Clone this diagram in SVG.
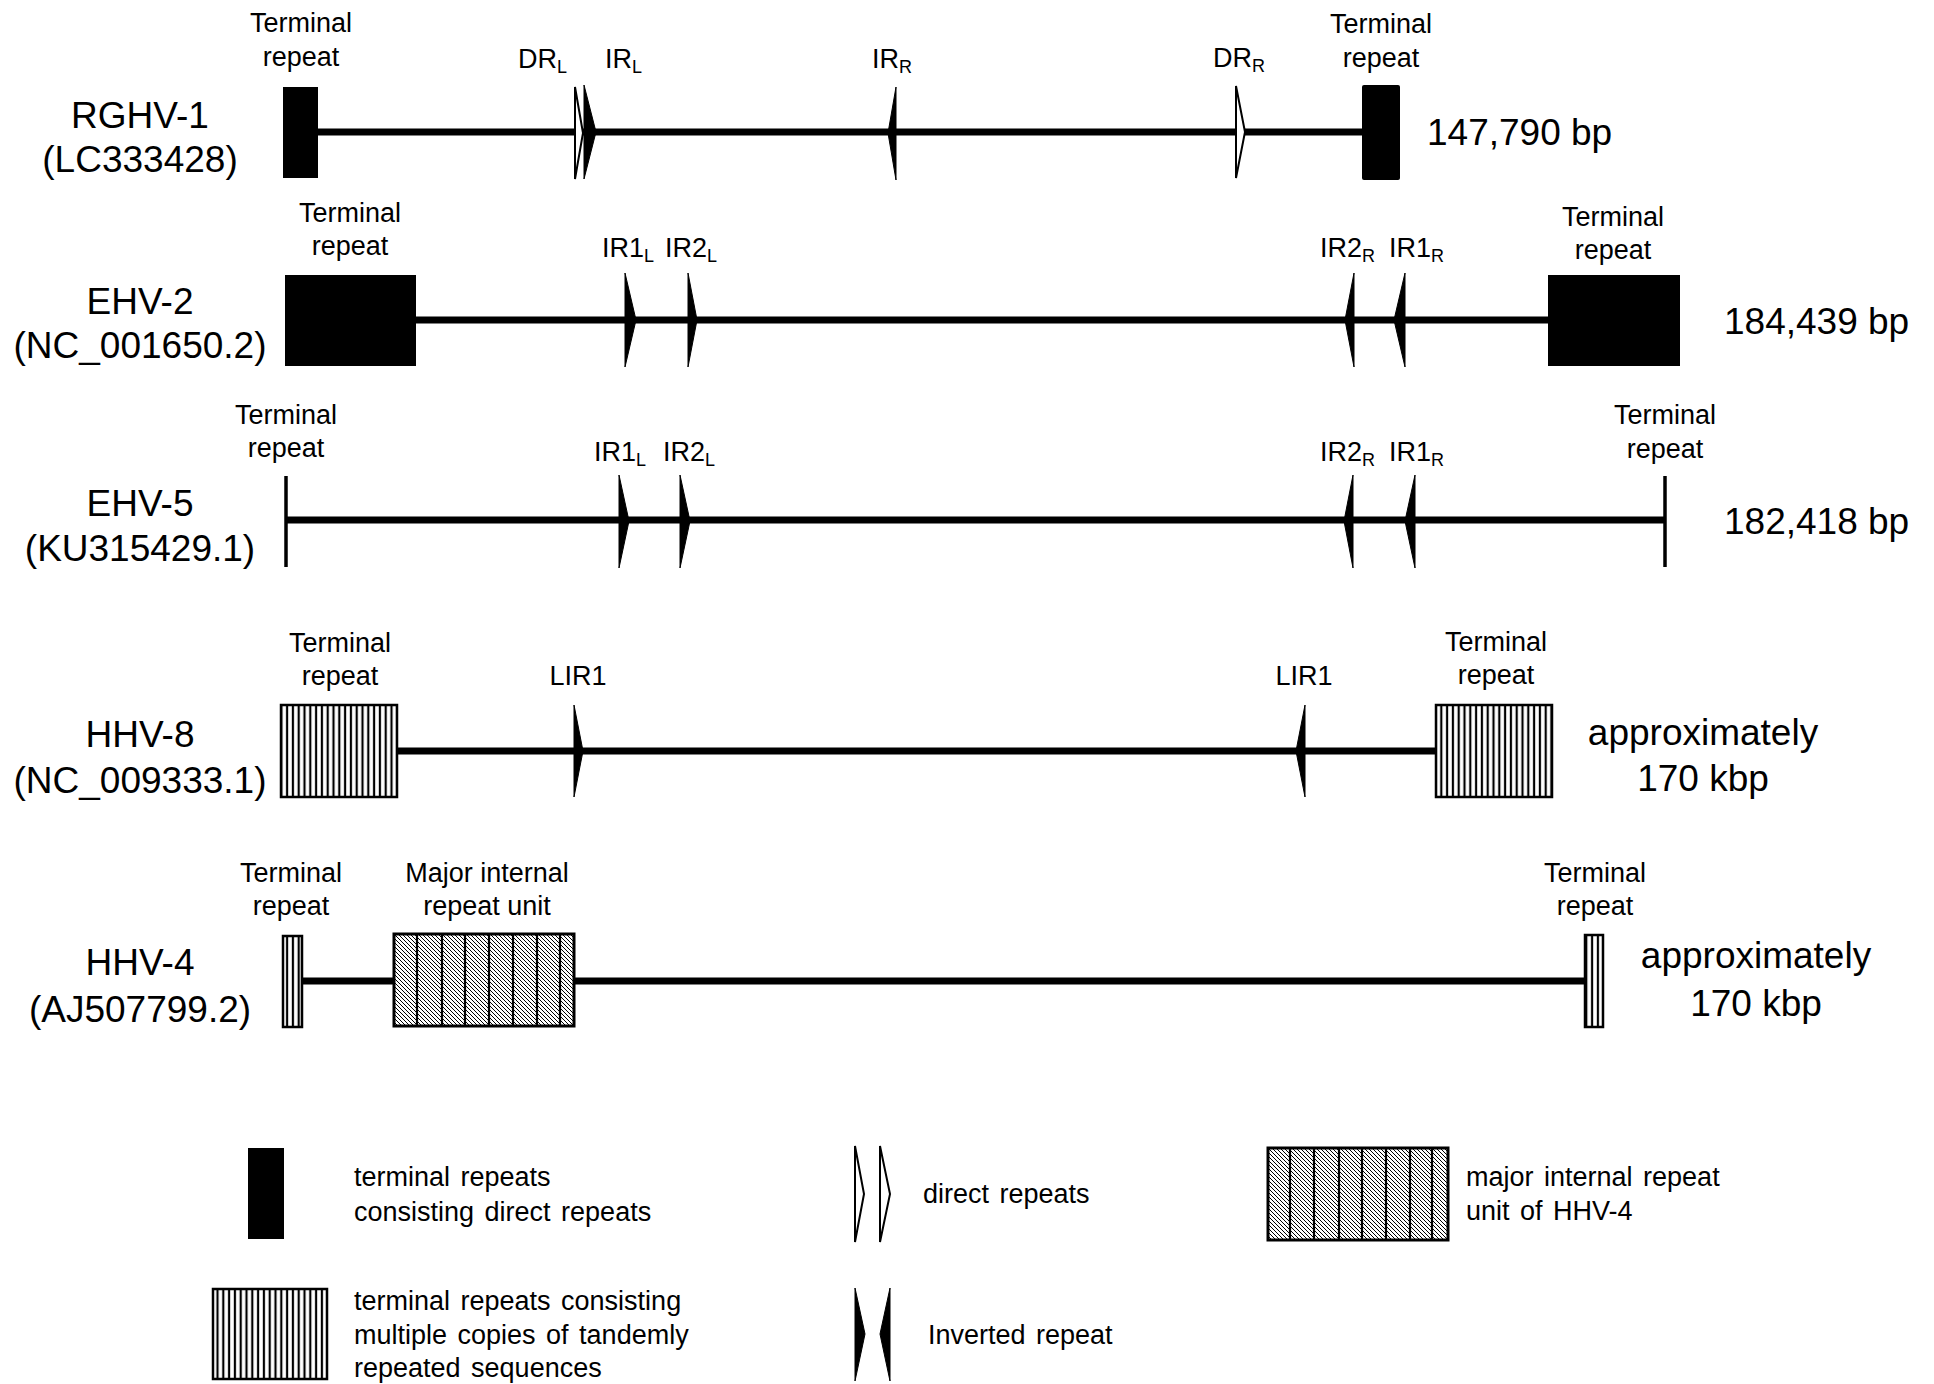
<svg xmlns="http://www.w3.org/2000/svg" width="1934" height="1384" viewBox="0 0 1934 1384">
<style>
text{font-family:"Liberation Sans",Arial,sans-serif;fill:#000}
.name{font-size:37px;text-anchor:middle}
.lbl{font-size:27px}
.lblc{font-size:27px;text-anchor:middle}
.size{font-size:37px}
.sizec{font-size:37px;text-anchor:middle}
.leg{font-size:27px;word-spacing:3px}
.bb{stroke:#000;stroke-width:7;fill:none}
.solid{fill:#000}
.open{fill:#fff;stroke:#000;stroke-width:2;stroke-linejoin:miter}
.inv{fill:#000;stroke:#000;stroke-width:1}
.vs{fill:url(#vstripe);stroke:#000;stroke-width:2.5}
.dg{fill:url(#diag);stroke:#000;stroke-width:3}
.div{stroke:#000;stroke-width:2.2}
.bar{stroke:#000;stroke-width:3.5}
</style>
<defs>
<pattern id="vstripe" patternUnits="userSpaceOnUse" width="5.8" height="10">
<rect width="5.8" height="10" fill="#fff"/>
<line x1="2.9" y1="0" x2="2.9" y2="10" stroke="#000" stroke-width="2.2"/>
</pattern>
<pattern id="diag" patternUnits="userSpaceOnUse" width="4" height="4">
<rect width="4" height="4" fill="#fff"/>
<path d="M0,0 L4,4 M-1,3 L1,5 M3,-1 L5,1" stroke="#000" stroke-width="1"/>
</pattern>
</defs>
<rect width="1934" height="1384" fill="#fff"/>

<g id="connectors">
<line class="bb" x1="318" y1="132" x2="1362" y2="132"/>
<line class="bb" x1="416" y1="320" x2="1548" y2="320"/>
<line class="bb" x1="285" y1="520" x2="1665" y2="520"/>
<line class="bb" x1="397" y1="751" x2="1436" y2="751"/>
<line class="bb" x1="302" y1="981" x2="394" y2="981"/>
<line class="bb" x1="574" y1="981" x2="1585" y2="981"/>
</g>

<!-- Row 1 RGHV-1 -->
<g id="rghv1-name">
<text class="name" x="140" y="128">RGHV-1</text>
<text class="name" x="140" y="172">(LC333428)</text>
</g>
<g id="rghv1-tr-left">
<text class="lblc" x="301" y="32">Terminal</text>
<text class="lblc" x="301" y="66">repeat</text>
<rect class="solid" x="283" y="87" width="35" height="91"/>
</g>
<g id="rghv1-drl">
<text class="lbl" x="518" y="68">DR<tspan font-size="18" dy="5">L</tspan></text>
<path class="open" d="M575,87 L583,133 L575,179 Z"/>
</g>
<g id="rghv1-irl">
<text class="lbl" x="605" y="68">IR<tspan font-size="18" dy="5">L</tspan></text>
<path class="inv" d="M584,85 L596,132 L584,179 Z"/>
</g>
<g id="rghv1-irr">
<text class="lbl" x="872" y="68">IR<tspan font-size="18" dy="5">R</tspan></text>
<path class="inv" d="M896,87 L888,133 L896,180 Z"/>
</g>
<g id="rghv1-drr">
<text class="lbl" x="1213" y="67">DR<tspan font-size="18" dy="5">R</tspan></text>
<path class="open" d="M1236,86 L1245,132 L1236,178 Z"/>
</g>
<g id="rghv1-tr-right">
<text class="lblc" x="1381" y="33">Terminal</text>
<text class="lblc" x="1381" y="67">repeat</text>
<rect class="solid" x="1362" y="85" width="38" height="95" rx="2"/>
</g>
<g id="rghv1-size"><text class="size" x="1427" y="145">147,790 bp</text></g>

<!-- Row 2 EHV-2 -->
<g id="ehv2-name">
<text class="name" x="140" y="314">EHV-2</text>
<text class="name" x="140" y="358">(NC_001650.2)</text>
</g>
<g id="ehv2-tr-left">
<text class="lblc" x="350" y="222">Terminal</text>
<text class="lblc" x="350" y="255">repeat</text>
<rect class="solid" x="285" y="275" width="131" height="91"/>
</g>
<g id="ehv2-ir1l">
<text class="lbl" x="602" y="257">IR1<tspan font-size="18" dy="5">L</tspan></text>
<path class="inv" d="M625,273 L636,320 L625,367 Z"/>
</g>
<g id="ehv2-ir2l">
<text class="lbl" x="665" y="257">IR2<tspan font-size="18" dy="5">L</tspan></text>
<path class="inv" d="M688,273 L697,320 L688,367 Z"/>
</g>
<g id="ehv2-ir2r">
<text class="lbl" x="1320" y="257">IR2<tspan font-size="18" dy="5">R</tspan></text>
<path class="inv" d="M1354,273 L1345,320 L1354,367 Z"/>
</g>
<g id="ehv2-ir1r">
<text class="lbl" x="1389" y="257">IR1<tspan font-size="18" dy="5">R</tspan></text>
<path class="inv" d="M1405,273 L1394,320 L1405,367 Z"/>
</g>
<g id="ehv2-tr-right">
<text class="lblc" x="1613" y="226">Terminal</text>
<text class="lblc" x="1613" y="259">repeat</text>
<rect class="solid" x="1548" y="275" width="132" height="91"/>
</g>
<g id="ehv2-size"><text class="size" x="1724" y="334">184,439 bp</text></g>

<!-- Row 3 EHV-5 -->
<g id="ehv5-name">
<text class="name" x="140" y="516">EHV-5</text>
<text class="name" x="140" y="561">(KU315429.1)</text>
</g>
<g id="ehv5-tr-left">
<text class="lblc" x="286" y="424">Terminal</text>
<text class="lblc" x="286" y="457">repeat</text>
<line class="bar" x1="286" y1="476" x2="286" y2="567"/>
</g>
<g id="ehv5-ir1l">
<text class="lbl" x="594" y="461">IR1<tspan font-size="18" dy="5">L</tspan></text>
<path class="inv" d="M619,475 L629,521 L619,568 Z"/>
</g>
<g id="ehv5-ir2l">
<text class="lbl" x="663" y="461">IR2<tspan font-size="18" dy="5">L</tspan></text>
<path class="inv" d="M680,475 L690,521 L680,568 Z"/>
</g>
<g id="ehv5-ir2r">
<text class="lbl" x="1320" y="461">IR2<tspan font-size="18" dy="5">R</tspan></text>
<path class="inv" d="M1353,475 L1344,521 L1353,568 Z"/>
</g>
<g id="ehv5-ir1r">
<text class="lbl" x="1389" y="461">IR1<tspan font-size="18" dy="5">R</tspan></text>
<path class="inv" d="M1415,475 L1405,521 L1415,568 Z"/>
</g>
<g id="ehv5-tr-right">
<text class="lblc" x="1665" y="424">Terminal</text>
<text class="lblc" x="1665" y="458">repeat</text>
<line class="bar" x1="1665" y1="476" x2="1665" y2="567"/>
</g>
<g id="ehv5-size"><text class="size" x="1724" y="534">182,418 bp</text></g>

<!-- Row 4 HHV-8 -->
<g id="hhv8-name">
<text class="name" x="140" y="747">HHV-8</text>
<text class="name" x="140" y="793">(NC_009333.1)</text>
</g>
<g id="hhv8-tr-left">
<text class="lblc" x="340" y="652">Terminal</text>
<text class="lblc" x="340" y="685">repeat</text>
<rect class="vs" x="281" y="705" width="116" height="92"/>
</g>
<g id="hhv8-lir1-left">
<text class="lblc" x="578" y="685">LIR1</text>
<path class="inv" d="M574,705 L583,751 L574,797 Z"/>
</g>
<g id="hhv8-lir1-right">
<text class="lblc" x="1304" y="685">LIR1</text>
<path class="inv" d="M1305,705 L1296,751 L1305,797 Z"/>
</g>
<g id="hhv8-tr-right">
<text class="lblc" x="1496" y="651">Terminal</text>
<text class="lblc" x="1496" y="684">repeat</text>
<rect class="vs" x="1436" y="705" width="116" height="92"/>
</g>
<g id="hhv8-size">
<text class="sizec" x="1703" y="745">approximately</text>
<text class="sizec" x="1703" y="791">170 kbp</text>
</g>

<!-- Row 5 HHV-4 -->
<g id="hhv4-name">
<text class="name" x="140" y="975">HHV-4</text>
<text class="name" x="140" y="1022">(AJ507799.2)</text>
</g>
<g id="hhv4-tr-left">
<text class="lblc" x="291" y="882">Terminal</text>
<text class="lblc" x="291" y="915">repeat</text>
<rect class="vs" x="283" y="936" width="19" height="91"/>
</g>
<g id="hhv4-mir">
<text class="lblc" x="487" y="882">Major internal</text>
<text class="lblc" x="487" y="915">repeat unit</text>
<rect class="dg" x="394" y="934" width="180" height="92"/>
<path class="div" d="M417,934V1026M442,934V1026M465,934V1026M489,934V1026M513,934V1026M537,934V1026M560,934V1026"/>
</g>
<g id="hhv4-tr-right">
<text class="lblc" x="1595" y="882">Terminal</text>
<text class="lblc" x="1595" y="915">repeat</text>
<rect class="vs" x="1585" y="935" width="18" height="92"/>
</g>
<g id="hhv4-size">
<text class="sizec" x="1756" y="968">approximately</text>
<text class="sizec" x="1756" y="1016">170 kbp</text>
</g>

<!-- Legend -->
<g id="legend-terminal-direct">
<rect class="solid" x="248" y="1148" width="36" height="91"/>
<text class="leg" x="354" y="1186">terminal repeats</text>
<text class="leg" x="354" y="1221">consisting direct repeats</text>
</g>
<g id="legend-direct">
<path class="open" d="M855,1146 L864,1194 L855,1242 Z"/>
<path class="open" d="M880,1146 L890,1194 L880,1242 Z"/>
<text class="leg" x="923" y="1203">direct repeats</text>
</g>
<g id="legend-major">
<rect class="dg" x="1268" y="1148" width="180" height="92"/>
<path class="div" d="M1290,1148V1240M1314,1148V1240M1339,1148V1240M1362,1148V1240M1386,1148V1240M1410,1148V1240M1432,1148V1240"/>
<text class="leg" x="1466" y="1186">major internal repeat</text>
<text class="leg" x="1466" y="1220">unit of HHV-4</text>
</g>
<g id="legend-tandem">
<rect class="vs" x="213" y="1289" width="114" height="90"/>
<text class="leg" x="354" y="1310">terminal repeats consisting</text>
<text class="leg" x="354" y="1344">multiple copies of tandemly</text>
<text class="leg" x="354" y="1377">repeated sequences</text>
</g>
<g id="legend-inverted">
<path class="inv" d="M855,1288 L865,1334 L855,1381 Z"/>
<path class="inv" d="M890,1288 L880,1334 L890,1381 Z"/>
<text class="leg" x="928" y="1344">Inverted repeat</text>
</g>
</svg>
